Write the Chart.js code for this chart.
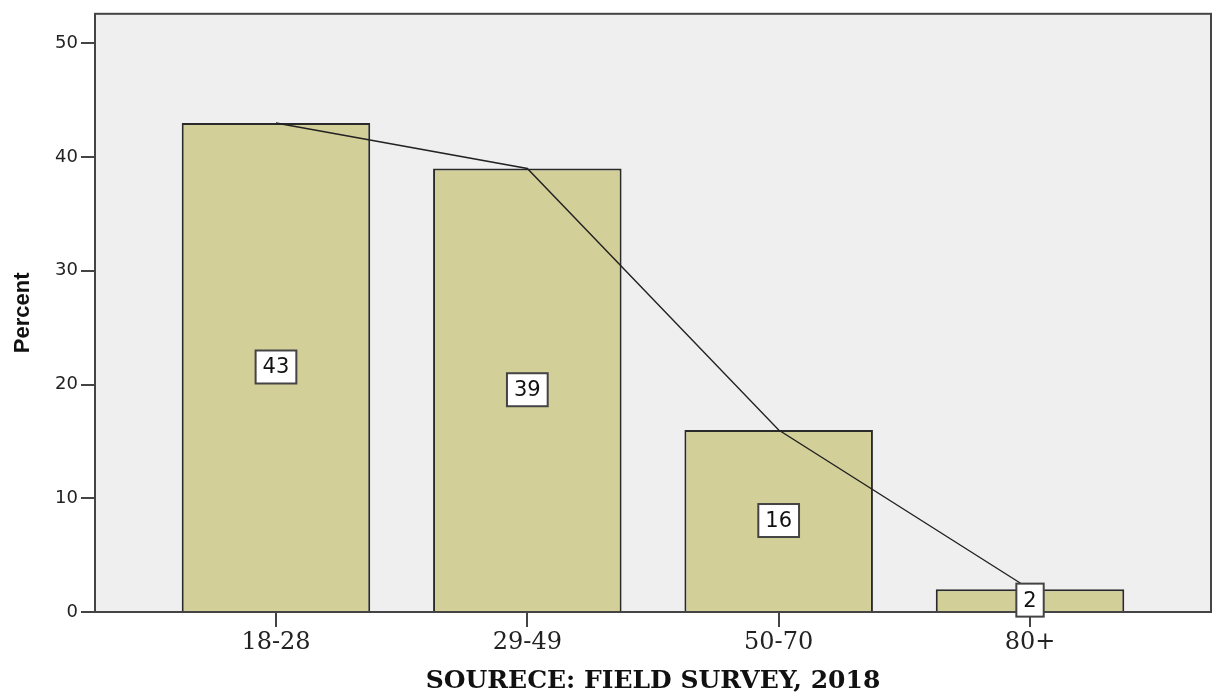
<!DOCTYPE html>
<html>
<head>
<meta charset="utf-8">
<script src="https://cdn.jsdelivr.net/npm/chart.js@4"></script>
<style>
  body { margin: 0; background: #fff; }
  #wrap { width: 1220px; height: 694px; }
</style>
</head>
<body>
<div id="wrap"><canvas id="age-chart"></canvas></div>
<script>
var categories = ['18-28', '29-49', '50-70', '80+'];
var percents = [43, 39, 16, 2];
var yTicks = [0, 10, 20, 30, 40, 50];

var points = categories.map(function (c, i) { return { x: i, y: percents[i] }; });

// plot background + frame
var framePlugin = {
    id: 'frame',
    beforeDatasetsDraw: function (chart) {
        var a = chart.chartArea, ctx = chart.ctx;
        ctx.save();
        ctx.fillStyle = '#efefef';
        ctx.fillRect(a.left, a.top, a.right - a.left, a.bottom - a.top);
        ctx.strokeStyle = '#444';
        ctx.lineWidth = 2;
        ctx.strokeRect(a.left, a.top, a.right - a.left, a.bottom - a.top);
        ctx.restore();
    }
};

// value boxes in the middle of each bar
var boxLabels = {
    id: 'boxLabels',
    afterDatasetsDraw: function (chart) {
        var ctx = chart.ctx;
        var meta = chart.getDatasetMeta(0);
        ctx.save();
        ctx.font = '21px "DejaVu Sans"';
        ctx.textAlign = 'center';
        ctx.textBaseline = 'middle';
        meta.data.forEach(function (el, i) {
            var txt = String(percents[i]);
            var cx = el.x, cy = (el.y + el.base) / 2;
            var w = ctx.measureText(txt).width + 14, h = 33;
            ctx.fillStyle = '#fff';
            ctx.fillRect(cx - w / 2, cy - h / 2, w, h);
            ctx.strokeStyle = '#444';
            ctx.lineWidth = 2;
            ctx.strokeRect(cx - w / 2, cy - h / 2, w, h);
            ctx.fillStyle = '#111';
            ctx.fillText(txt, cx, cy + 1);
        });
        ctx.restore();
    }
};

var data = {
    datasets: [{
        type: 'bar',
        label: 'Percent',
        data: points,
        backgroundColor: '#d3cf98',
        borderColor: '#2a2a2a',
        borderWidth: 2,
        categoryPercentage: 1,
        barPercentage: 0.75,
        order: 1
    }, {
        type: 'line',
        label: 'trend',
        data: points,
        borderColor: '#222',
        borderWidth: 1.4,
        pointRadius: 0,
        tension: 0,
        order: 0
    }]
};

var layout = {
    type: 'bar',
    data: data,
    options: {
        responsive: true,
        maintainAspectRatio: false,
        animation: false,
        layout: { padding: { top: 7, right: 9, left: 0, bottom: 0 } },
        plugins: {
            legend: { display: false },
            tooltip: { enabled: false }
        },
        scales: {
            x: {
                type: 'linear',
                min: -0.72,
                max: 3.72,
                offset: false,
                afterBuildTicks: function (s) {
                    s.ticks = categories.map(function (c, i) { return { value: i }; });
                },
                afterFit: function (s) { s.height = 82; },
                border: { display: false },
                grid: { offset: false, drawOnChartArea: false, drawTicks: true, tickLength: 15, color: '#444', lineWidth: 2 },
                ticks: {
                    autoSkip: false,
                    maxRotation: 0,
                    padding: 1,
                    color: '#222',
                    font: { family: '"DejaVu Serif"', size: 24 },
                    callback: function (v) { return categories[v]; }
                },
                title: {
                    display: true,
                    text: 'SOURECE: FIELD SURVEY, 2018',
                    color: '#111',
                    font: { family: '"DejaVu Serif"', size: 25, weight: 'bold' },
                    padding: { top: 0, bottom: -2 }
                }
            },
            y: {
                min: 0,
                max: 52.6,
                afterBuildTicks: function (s) {
                    s.ticks = yTicks.map(function (v) { return { value: v }; });
                },
                afterFit: function (s) { s.width = 95; },
                border: { display: false },
                grid: { drawOnChartArea: false, drawTicks: true, tickLength: 14, color: '#444', lineWidth: 2 },
                ticks: {
                    padding: 3,
                    color: '#222',
                    font: { family: '"DejaVu Sans"', size: 18 }
                },
                title: {
                    display: true,
                    text: 'Percent',
                    color: '#111',
                    font: { family: '"Liberation Sans"', size: 22, weight: 'bold' },
                    padding: { top: 10, bottom: 0 }
                }
            }
        }
    },
    plugins: [framePlugin, boxLabels]
};

new Chart(document.getElementById('age-chart'), layout);
</script>
</body>
</html>
